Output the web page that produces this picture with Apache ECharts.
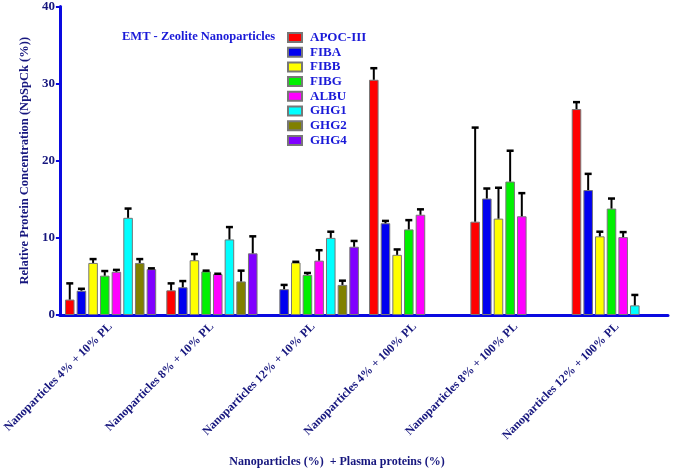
<!DOCTYPE html>
<html>
<head>
<meta charset="utf-8">
<script src="https://cdn.jsdelivr.net/npm/echarts@6/dist/echarts.min.js"></script>
<style>html,body{margin:0;padding:0;background:#fff;}#c{width:675px;height:469px;}</style>
</head>
<body>
<div id="c"></div>
<script>
const categories = ['Nanoparticles 4% + 10% PL', 'Nanoparticles 8% + 10% PL', 'Nanoparticles 12% + 10% PL', 'Nanoparticles 4% + 100% PL', 'Nanoparticles 8% + 100% PL', 'Nanoparticles 12% + 100% PL'];
const seriesNames = ['APOC-III', 'FIBA', 'FIBB', 'FIBG', 'ALBU', 'GHG1', 'GHG2', 'GHG4'];
const colors = ['#FF0000', '#0000F0', '#FFFF00', '#00F000', '#FF00FF', '#00FFFF', '#808000', '#8000FF'];
const APOC = [2.0, 3.2, null, 30.5, 12.1, 26.7];
const FIBA = [3.15, 3.6, 3.35, 11.9, 15.1, 16.2];
const FIBB = [6.75, 7.1, 6.8, 7.8, 12.5, 10.2];
const FIBG = [5.1, 5.65, 5.2, 11.1, 17.3, 13.8];
const ALBU = [5.6, 5.3, 7.05, 13.0, 12.8, 10.1];
const GHG1 = [12.6, 9.8, 10.0, null, null, 1.25];
const GHG2 = [6.75, 4.35, 3.9, null, null, null];
const GHG4 = [5.95, 8.0, 8.85, null, null, null];
const APOC_sd = [2.1, 0.9, null, 1.5, 12.2, 0.9];
const FIBA_sd = [0.25, 0.8, 0.55, 0.3, 1.3, 2.1];
const FIBB_sd = [0.5, 0.8, 0.1, 0.7, 4.0, 0.6];
const FIBG_sd = [0.6, 0.1, 0.25, 1.2, 4.0, 1.3];
const ALBU_sd = [0.25, 0.05, 1.35, 0.7, 3.0, 0.65];
const GHG1_sd = [1.2, 1.6, 0.8, null, null, 1.35];
const GHG2_sd = [0.5, 1.4, 0.55, null, null, null];
const GHG4_sd = [0.1, 2.2, 0.75, null, null, null];
const yTicks = [0, 10, 20, 30, 40];

const values = [APOC, FIBA, FIBB, FIBG, ALBU, GHG1, GHG2, GHG4];
const sds = [APOC_sd, FIBA_sd, FIBB_sd, FIBG_sd, ALBU_sd, GHG1_sd, GHG2_sd, GHG4_sd];

const FONT = 'Liberation Serif';
const NAVY = '#16167e';
const BLUE = '#1a1ad8';
const AXIS = '#0a0ae0';
const CAT_GAP = 0.10, BAR_GAP = 0.22, N = seriesNames.length;

const series = [];
seriesNames.forEach((name, i) => {
  series.push({
    name: name, type: 'bar',
    data: values[i].map(v => v === null ? '-' : v),
    barCategoryGap: (CAT_GAP * 100) + '%', barGap: (BAR_GAP * 100) + '%',
    itemStyle: { color: colors[i], borderColor: '#777', borderWidth: 1 },
    z: 2
  });
});
seriesNames.forEach((name, i) => {
  const d = [];
  values[i].forEach((v, k) => { if (v !== null && sds[i][k] !== null) d.push([k, v, sds[i][k]]); });
  series.push({
    type: 'custom', name: name + ' err', data: d, z: 3,
    encode: { x: 0, y: 1 },
    renderItem: function (params, api) {
      const k = api.value(0), v = api.value(1), sd = api.value(2);
      const band = api.size([1, 0])[0];
      const total = band * (1 - CAT_GAP);
      const w = total / (N + (N - 1) * BAR_GAP);
      const step = w * (1 + BAR_GAP);
      const base = api.coord([k, v]);
      const top = api.coord([k, v + sd]);
      const x = base[0] - total / 2 + w / 2 + i * step;
      const cap = 3.5;
      return {
        type: 'group', children: [
          { type: 'line', shape: { x1: x, y1: base[1], x2: x, y2: top[1] }, style: { stroke: '#000', lineWidth: 2 } },
          { type: 'line', shape: { x1: x - cap, y1: top[1], x2: x + cap, y2: top[1] }, style: { stroke: '#000', lineWidth: 2.5 } }
        ]
      };
    }
  });
});

const chart = echarts.init(document.getElementById('c'));
chart.setOption({
  animation: false,
  backgroundColor: '#fff',
  grid: { left: 59, right: 7, top: 6, bottom: 154, containLabel: false },
  legend: {
    data: seriesNames, orient: 'vertical', left: 287, top: 31, padding: 0,
    itemWidth: 14, itemHeight: 9, itemGap: 1.7, icon: 'rect',
    textStyle: { fontFamily: FONT, fontWeight: 'bold', fontSize: 13, color: BLUE, padding: [0, 0, 0, 3] },
    selectedMode: false
  },
  graphic: [
    { type: 'text', left: 122, top: 30, style: { text: 'EMT - Zeolite Nanoparticles', font: 'bold 12.5px "Liberation Serif"', fill: BLUE } },
    { type: 'text', x: 337, y: 462, style: { text: 'Nanoparticles (%)  + Plasma proteins (%)', font: 'bold 12px "Liberation Serif"', fill: NAVY, textAlign: 'center', textVerticalAlign: 'middle' } }
  ],
  xAxis: {
    type: 'category', data: categories,
    axisLine: { lineStyle: { color: AXIS, width: 3 } },
    axisTick: { alignWithLabel: true, length: 4, lineStyle: { color: AXIS, width: 2 } },
    axisLabel: { rotate: 45, margin: 10, fontFamily: FONT, fontWeight: 'bold', fontSize: 12, color: NAVY, interval: 0 }
  },
  yAxis: {
    type: 'value', min: yTicks[0], max: yTicks[yTicks.length - 1], interval: 10,
    name: 'Relative Protein Concentration (NpSpCk (%))', nameLocation: 'middle', nameGap: 22,
    nameTextStyle: { fontFamily: FONT, fontWeight: 'bold', fontSize: 12.5, color: NAVY },
    axisLine: { show: true, lineStyle: { color: AXIS, width: 3 } },
    axisTick: { show: true, length: 4, lineStyle: { color: AXIS, width: 2 } },
    axisLabel: { fontFamily: FONT, fontWeight: 'bold', fontSize: 13, color: NAVY, margin: 5 },
    splitLine: { show: false }
  },
  series: series
});
</script>
</body>
</html>
